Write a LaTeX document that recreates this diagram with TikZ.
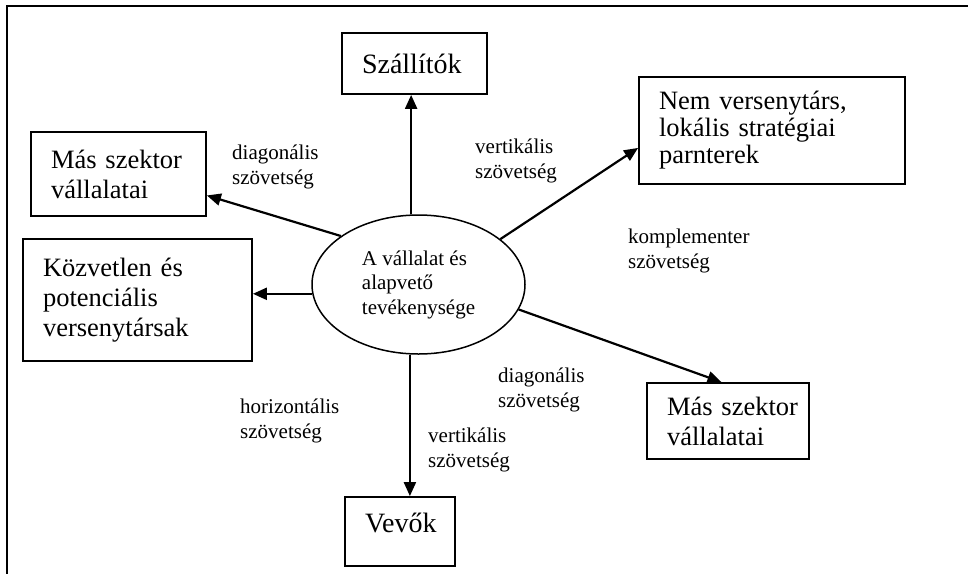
\documentclass[tikz,border=0pt]{standalone}
\usepackage{fontspec}
\setmainfont{Liberation Serif}
\usetikzlibrary{arrows.meta,calc,shapes.geometric}
\hyphenpenalty=10000

\begin{document}
\begin{tikzpicture}[x=1pt, y=-1pt, box/.style={draw, line width=1.8pt, rectangle, inner xsep=20pt, inner ysep=0pt, align=left, font=\fontsize{26.5}{30}\selectfont}, lbl/.style={inner sep=0pt, anchor=west, align=left, font=\fontsize{21}{25}\selectfont}, arr/.style={line width=2.2pt, -{Triangle[length=14pt, width=12pt]}}]
  \useasboundingbox (0,0) rectangle (968,574);
  \draw[line width=2pt] (968,6) -- (7,6) -- (7,574);
  \node[ellipse, draw, line width=1.5pt, minimum width=213pt, minimum height=139pt, inner sep=0pt, align=left, font=\fontsize{21}{24.5}\selectfont](core) at (418.5,284.5){A vállalat és\\alapvető\\tevékenysége};
  \node[box, text width=105pt, minimum height=61pt, font=\fontsize{28}{32}\selectfont](supp) at (414.5,63.5){Szállítók};
  \node[box, text width=135pt, minimum height=84pt](mas1) at (118.5,174){Más szektor\\vállalatai};
  \node[box, text width=189pt, minimum height=122pt](kozv) at (137.5,300){Közvetlen és\\potenciális\\versenytársak};
  \node[box, text width=226pt, minimum height=107pt, font=\fontsize{26.5}{27}\selectfont](part) at (772,130.5){Nem versenytárs,\\lokális stratégiai\\parnterek};
  \node[box, text width=122pt, minimum height=76pt](mas2) at (728,421){\mbox{Más szektor}\\vállalatai};
  \node[box, text width=70pt, minimum height=69pt, text depth=18pt, font=\fontsize{28}{32}\selectfont](vev) at (400,531.5){Vevők};
  \draw[arr] (core.96) -- (core.96 |- supp.south);
  \draw[arr] (core.148) -- ($(mas1.north east)!0.75!(mas1.south east)$);
  \draw[arr] (core.185) -- (core.185 -| kozv.east);
  \draw[arr] (core.29) -- ($(part.north west)!0.66!(part.south west)$);
  \draw[arr] (core.346) -- ($(mas2.north west)!0.46!(mas2.north east)$);
  \draw[arr] (core.263) -- (core.263 |- vev.north);
  \node[lbl](dg1) at (232,166.5){diagonális\\szövetség};
  \node[lbl](vt1) at (475,161){vertikális\\szövetség};
  \node[lbl](kp) at (628,250.5){komplementer\\szövetség};
  \node[lbl](dg2) at (498,389.5){diagonális\\szövetség};
  \node[lbl](vt2) at (428,449.5){vertikális\\szövetség};
  \node[lbl](hz) at (240,421){horizontális\\szövetség};
\end{tikzpicture}
\end{document}
